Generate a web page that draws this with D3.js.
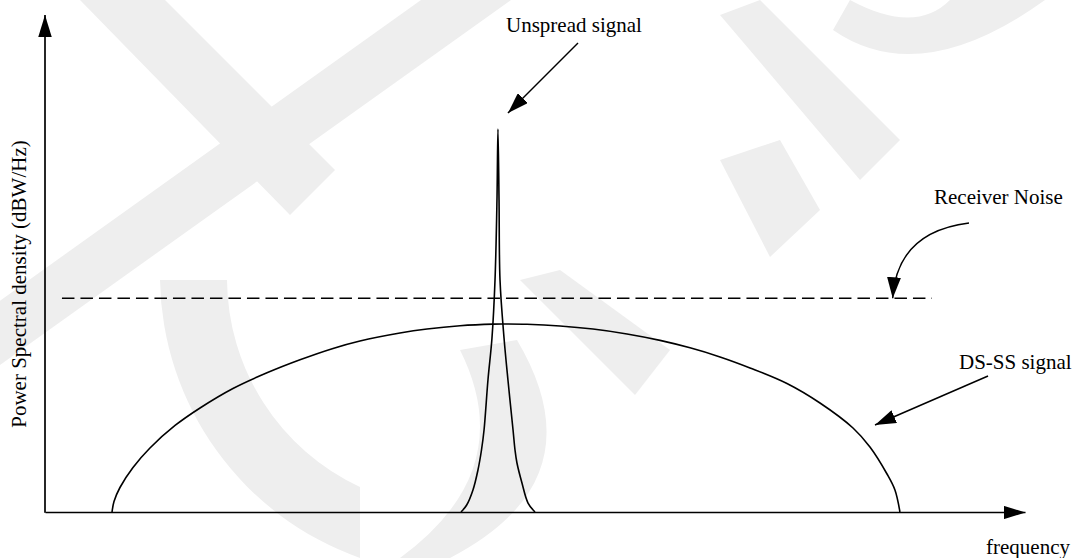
<!DOCTYPE html>
<html>
<head>
<meta charset="utf-8">
<script src="https://cdn.jsdelivr.net/npm/d3@7"></script>
<style>
  html, body { margin: 0; padding: 0; background: #fff; }
  svg { display: block; }
  text { font-family: "Liberation Serif", "Times New Roman", serif; fill: #000; }
</style>
</head>
<body>
<svg id="chart" width="1081" height="558"></svg>
<script>
// Spread-spectrum power spectral density sketch (arbitrary units, 0-100 on both axes)

// DS-SS (spread) signal envelope
const dsssFreq = [6.84, 7.04, 7.65, 8.98, 10.71, 13.27, 15.82, 19.18, 22.65, 26.02, 29.39, 32.14,
                  36.22, 38.98, 42.35, 45.71, 47.04, 49.18, 52.55, 55.92, 59.39, 62.76, 65.82,
                  68.88, 71.94, 75.71, 79.08, 82.45, 84.18, 85.92, 86.73, 87.24];
const dsssPsd  = [0, 2.12, 4.94, 8.97, 12.9, 17.44, 20.97, 24.9, 28.06, 30.69, 32.98, 34.48,
                  36.09, 36.9, 37.56, 37.88, 37.9, 37.84, 37.5, 36.88, 35.89, 34.6, 33.1,
                  31.27, 29.05, 25.91, 21.98, 16.94, 13.1, 7.66, 4.44, 0];

// Unspread (narrowband) signal
const unspreadFreq = [42.45, 43.03, 43.67, 44.18, 44.54, 44.8, 45.2, 45.61, 45.92, 46.12, 46.22,
                      46.33, 46.43, 46.84, 47.24, 47.76, 47.96, 48.16, 48.67, 49.29, 50.0];
const unspreadPsd  = [0, 1.41, 4.44, 8.47, 12.5, 16.53, 26.61, 35.08, 46.77, 62.9, 77.22,
                      62.9, 46.77, 35.08, 26.61, 16.53, 12.5, 9.88, 5.85, 1.81, 0];

// Receiver noise floor
const noiseLevel = 43.1;
const noiseSpan = [1.73, 90.5];

// Axis and annotation labels
const yAxisTitle = "Power Spectral density (dBW/Hz)";
const xAxisTitle = "frequency";
const labelUnspread = "Unspread signal";
const labelNoise = "Receiver Noise";
const labelDsss = "DS-SS signal";

const svg = d3.select("#chart");
const x = d3.scaleLinear().domain([0, 100]).range([45, 1025]);
const y = d3.scaleLinear().domain([0, 100]).range([512, 16]);

// Faint background emblem
const emblem = svg.append("g").attr("fill", "#eeeeee");
[
  "M421,0L511,0L-49,400L-139,400Z",
  "M80,0L165,0L335,170L290,215Z",
  "M160,280A300,300 0 0 0 360,558L360,487A230,230 0 0 1 227,280Z",
  "M833,30Q920,90 1045,0L950,0Q915,35 850,0Z",
  "M720,15L760,0L900,140L860,180Z",
  "M720,160L780,140L820,210L770,257Z",
  "M520,280L560,270L670,350L635,395Z",
  "M460,350L517,340Q600,480 450,558L400,558Q520,470 460,350Z"
].forEach(d => emblem.append("path").attr("d", d));

const defs = svg.append("defs");
function arrowMarker(id, len, wid) {
  defs.append("marker")
    .attr("id", id)
    .attr("markerUnits", "userSpaceOnUse")
    .attr("viewBox", `0 ${-wid / 2} ${len} ${wid}`)
    .attr("refX", len).attr("refY", 0)
    .attr("markerWidth", len).attr("markerHeight", wid)
    .attr("orient", "auto")
    .append("path")
    .attr("d", `M0,${-wid / 2}L${len},0L0,${wid / 2}Z`)
    .attr("fill", "#000");
}
arrowMarker("axisArrow", 22, 13.5);
arrowMarker("noteArrow", 21, 14);

// Axes: bare lines with arrowheads, no ticks
const xAxis = d3.axisBottom(x).tickValues([]).tickSizeOuter(0);
svg.append("g").attr("transform", `translate(0,${y(0)})`).call(xAxis)
  .select(".domain").attr("stroke", "#000").attr("stroke-width", 1.7)
  .attr("marker-end", "url(#axisArrow)");
svg.append("line")
  .attr("x1", x(0)).attr("x2", x(0))
  .attr("y1", y(0) + 0.85).attr("y2", y(100) - 1)
  .attr("stroke", "#000").attr("stroke-width", 1.7)
  .attr("marker-end", "url(#axisArrow)");

// Noise floor (dashed)
svg.append("line")
  .attr("x1", x(noiseSpan[0])).attr("x2", x(noiseSpan[1]))
  .attr("y1", y(noiseLevel)).attr("y2", y(noiseLevel))
  .attr("stroke", "#000").attr("stroke-width", 1.5)
  .attr("stroke-dasharray", "12.5,6");

const line = d3.line().x(d => x(d[0])).y(d => y(d[1])).curve(d3.curveCatmullRom.alpha(0.5));

svg.append("path")
  .datum(dsssFreq.map((f, i) => [f, dsssPsd[i]]))
  .attr("d", line)
  .attr("fill", "none").attr("stroke", "#000").attr("stroke-width", 1.6);

svg.append("path")
  .datum(unspreadFreq.map((f, i) => [f, unspreadPsd[i]]))
  .attr("d", line)
  .attr("fill", "none").attr("stroke", "#000").attr("stroke-width", 1.6);

// Labels
svg.append("text")
  .attr("transform", `translate(26,${(y(0) + y(100)) / 2 + 20}) rotate(-90)`)
  .attr("text-anchor", "middle").attr("font-size", 21)
  .text(yAxisTitle);
svg.append("text").attr("x", 986).attr("y", 554).attr("font-size", 21).text(xAxisTitle);
svg.append("text").attr("x", 506).attr("y", 31.5).attr("font-size", 21).text(labelUnspread);
svg.append("text").attr("x", 934).attr("y", 204).attr("font-size", 21).text(labelNoise);
svg.append("text").attr("x", 959).attr("y", 369).attr("font-size", 21).text(labelDsss);

// Annotation arrows
const peakIdx = unspreadPsd.indexOf(d3.max(unspreadPsd));
const tipU = [x(unspreadFreq[peakIdx]) + 10, y(unspreadPsd[peakIdx]) - 16];
svg.append("line")
  .attr("x1", 578).attr("y1", 43).attr("x2", tipU[0]).attr("y2", tipU[1])
  .attr("stroke", "#000").attr("stroke-width", 1.5)
  .attr("marker-end", "url(#noteArrow)");

const tipN = [x(86.5), y(noiseLevel)];
svg.append("path")
  .attr("d", `M969,223Q897,232 ${tipN[0]},${tipN[1]}`)
  .attr("fill", "none").attr("stroke", "#000").attr("stroke-width", 1.5)
  .attr("marker-end", "url(#noteArrow)");

svg.append("line")
  .attr("x1", 988).attr("y1", 376).attr("x2", 875).attr("y2", 425)
  .attr("stroke", "#000").attr("stroke-width", 1.5)
  .attr("marker-end", "url(#noteArrow)");
</script>
</body>
</html>
